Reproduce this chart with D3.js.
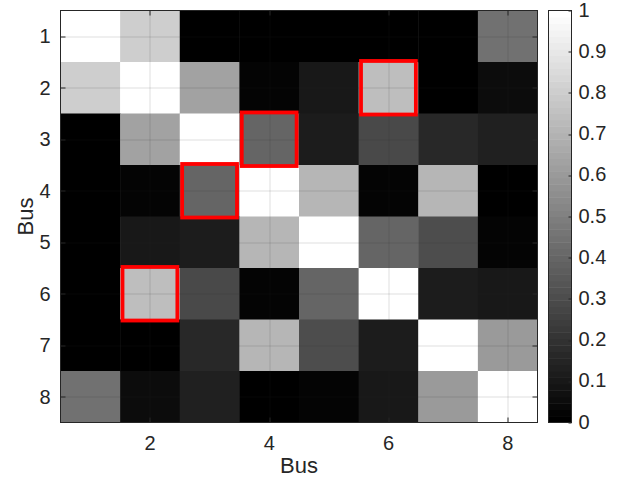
<!DOCTYPE html>
<html>
<head>
<meta charset="utf-8">
<script src="https://cdn.jsdelivr.net/npm/d3@7"></script>
<style>
  body { margin: 0; background: #fff; }
  svg text { font-family: "Liberation Sans", Arial, Helvetica, sans-serif; fill: #262626; }
</style>
</head>
<body>
<div id="chart"></div>
<script>
// bus indices and correlation matrix (symmetric)
const buses = [1, 2, 3, 4, 5, 6, 7, 8];
const row1 = [1.00, 0.80, 0.00, 0.01, 0.00, 0.00, 0.00, 0.45];
const row2 = [0.80, 1.00, 0.63, 0.02, 0.10, 0.74, 0.00, 0.05];
const row3 = [0.00, 0.63, 1.00, 0.40, 0.11, 0.29, 0.17, 0.13];
const row4 = [0.01, 0.02, 0.40, 1.00, 0.71, 0.02, 0.71, 0.01];
const row5 = [0.00, 0.10, 0.11, 0.71, 1.00, 0.40, 0.30, 0.03];
const row6 = [0.00, 0.74, 0.29, 0.02, 0.40, 1.00, 0.11, 0.10];
const row7 = [0.00, 0.00, 0.17, 0.71, 0.30, 0.11, 1.00, 0.60];
const row8 = [0.45, 0.05, 0.13, 0.01, 0.03, 0.10, 0.60, 1.00];
const rows = [row1, row2, row3, row4, row5, row6, row7, row8];

const xTicks = [2, 4, 6, 8];
const yTicks = [1, 2, 3, 4, 5, 6, 7, 8];
const cbTicks = [0, 0.1, 0.2, 0.3, 0.4, 0.5, 0.6, 0.7, 0.8, 0.9, 1];
// highlighted cells [row, col]
const highlighted = [[2, 6], [3, 4], [4, 3], [6, 2]];

const W = 626, H = 481;
const margin = {top: 10.5, left: 60.5, right: 88.5, bottom: 58.5};
const width = W - margin.left - margin.right,
    height = H - margin.top - margin.bottom;
const axisColor = "#262626";

const svg = d3.select("#chart").append("svg")
    .attr("width", W)
    .attr("height", H);

const g = svg.append("g")
    .attr("transform", "translate(" + margin.left + "," + margin.top + ")");

const x = d3.scaleLinear().domain([0.5, 8.5]).range([0, width]);
const y = d3.scaleLinear().domain([0.5, 8.5]).range([0, height]);

// MATLAB gray colormap, 64 levels
const nLevels = 64;
const gray = v => {
    const idx = Math.min(nLevels - 1, Math.floor(v * nLevels));
    const c = Math.round(255 * idx / (nLevels - 1));
    return d3.rgb(c, c, c).toString();
};

const cells = [];
rows.forEach((r, i) => r.forEach((v, j) => cells.push({row: buses[i], col: buses[j], v: v})));

g.selectAll(".cell")
    .data(cells)
    .enter().append("rect")
    .attr("class", "cell")
    .attr("x", d => x(d.col - 0.5))
    .attr("y", d => y(d.row - 0.5))
    .attr("width", x(1.5) - x(0.5) + 0.5)
    .attr("height", y(1.5) - y(0.5) + 0.5)
    .attr("fill", d => gray(d.v));

// grid
const grid = g.append("g")
    .attr("stroke", axisColor)
    .attr("stroke-opacity", 0.15)
    .attr("stroke-width", 1);
grid.selectAll(".gx").data(xTicks).enter().append("line")
    .attr("x1", d => Math.round(x(d)) + 0.5).attr("x2", d => Math.round(x(d)) + 0.5)
    .attr("y1", 0).attr("y2", height);
grid.selectAll(".gy").data(yTicks).enter().append("line")
    .attr("y1", d => Math.round(y(d)) + 0.5).attr("y2", d => Math.round(y(d)) + 0.5)
    .attr("x1", 0).attr("x2", width);

// highlight boxes
const hx = 0.46, hy = 0.52;
g.selectAll(".hl")
    .data(highlighted)
    .enter().append("rect")
    .attr("class", "hl")
    .attr("x", d => x(d[1] - hx))
    .attr("y", d => y(d[0] - hy))
    .attr("width", x(0.5 + 2 * hx) - x(0.5))
    .attr("height", y(0.5 + 2 * hy) - y(0.5))
    .attr("fill", "none")
    .attr("stroke", "#ff0000")
    .attr("stroke-width", 3.8);

// axes box and inward ticks
const tickLen = 5;
const axes = g.append("g").attr("stroke", axisColor).attr("stroke-width", 1);
axes.append("rect")
    .attr("x", 0).attr("y", 0).attr("width", width).attr("height", height)
    .attr("fill", "none");
xTicks.forEach(t => {
    const px = Math.round(x(t)) + 0.5;
    axes.append("line").attr("x1", px).attr("x2", px).attr("y1", height).attr("y2", height - tickLen);
    axes.append("line").attr("x1", px).attr("x2", px).attr("y1", 0).attr("y2", tickLen);
});
yTicks.forEach(t => {
    const py = Math.round(y(t)) + 0.5;
    axes.append("line").attr("y1", py).attr("y2", py).attr("x1", 0).attr("x2", tickLen);
    axes.append("line").attr("y1", py).attr("y2", py).attr("x1", width).attr("x2", width - tickLen);
});

g.selectAll(".xt").data(xTicks).enter().append("text")
    .attr("x", d => x(d)).attr("y", height + 27)
    .attr("text-anchor", "middle")
    .style("font-size", "20px")
    .text(d => d);
g.selectAll(".yt").data(yTicks).enter().append("text")
    .attr("x", -10).attr("y", d => y(d))
    .attr("dy", "0.35em")
    .attr("text-anchor", "end")
    .style("font-size", "20px")
    .text(d => d);

g.append("text")
    .attr("x", width / 2).attr("y", height + 50)
    .attr("text-anchor", "middle")
    .style("font-size", "22px")
    .text("Bus");
g.append("text")
    .attr("transform", "translate(-28," + (height / 2) + ") rotate(-90)")
    .attr("text-anchor", "middle")
    .style("font-size", "22px")
    .text("Bus");

// colorbar
const cbX = 548.5, cbW = 23;
const cb = svg.append("g").attr("transform", "translate(" + cbX + "," + margin.top + ")");
const cy = d3.scaleLinear().domain([0, 1]).range([height, 0]);
const levels = d3.range(nLevels);
cb.selectAll(".lv").data(levels).enter().append("rect")
    .attr("x", 0).attr("width", cbW)
    .attr("y", d => cy((d + 1) / nLevels))
    .attr("height", cy(0) - cy(1 / nLevels) + 0.5)
    .attr("fill", d => gray((d + 0.5) / nLevels));
cb.append("rect")
    .attr("width", cbW).attr("height", height)
    .attr("fill", "none").attr("stroke", axisColor);
cb.selectAll(".ct").data(cbTicks).enter().append("line")
    .attr("x1", cbW).attr("x2", cbW - 3)
    .attr("y1", d => Math.round(cy(d)) + 0.5).attr("y2", d => Math.round(cy(d)) + 0.5)
    .attr("stroke", axisColor);
cb.selectAll(".cl").data(cbTicks).enter().append("text")
    .attr("x", cbW + 7).attr("y", d => cy(d))
    .attr("dy", "0.3em")
    .style("font-size", "20px")
    .text(d => d);
</script>
</body>
</html>
